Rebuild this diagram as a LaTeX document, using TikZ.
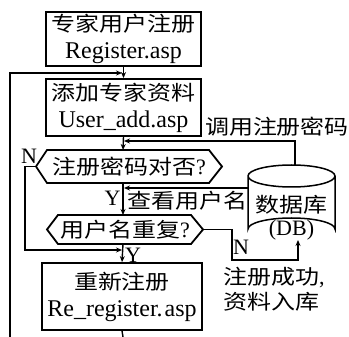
\documentclass[tikz,border=0pt]{standalone}
\usepackage{fontspec}
\setmainfont{Liberation Serif}
\newfontfamily\cjkfont[FakeStretch=1.17]{Noto Sans CJK SC}
\newcommand\zhtext[1]{{\fontsize{20.5}{24}\cjkfont #1}}
\usetikzlibrary{arrows.meta}
\begin{document}
\begin{tikzpicture}[x=1pt,y=-1pt,
  box/.style={draw, line width=1.8pt, inner sep=0pt, align=center,
    font=\fontsize{24}{27}\selectfont},
  lbl/.style={inner sep=0pt, font=\fontsize{22}{26}\selectfont},
  flow/.style={line width=1.4pt, -{Stealth[length=6pt,width=5pt]}},
  link/.style={line width=1.4pt},
  hexa/.style={line width=1.8pt, line join=miter}]
\useasboundingbox (0,0) rectangle (349,337);

% process boxes
\node[box, minimum width=155pt, minimum height=54pt] (reg) at (123.5,39)
  {\zhtext{专家用户注册}\\Register.asp};
\node[box, minimum width=155pt, minimum height=57pt] (add) at (123.5,107.5)
  {\zhtext{添加专家资料}\\User\_add.asp};
\node[box, minimum width=160pt, minimum height=67pt] (new) at (122,296.5)
  {\zhtext{重新注册}\\Re\_register.\kern2pt asp};

% decision hexagons
\draw[hexa] (36,166.5) -- (47,150) -- (209,150) -- (222,166.5) -- (209,183) -- (47,183) -- cycle;
\node[lbl] (q1) at (129,166.5) {\zhtext{注册密码对否}?};
\coordinate (q1t) at (123,150);
\coordinate (q1b) at (123,183);
\coordinate (q1l) at (36,166.5);

\draw[hexa] (47,229.5) -- (58,215) -- (191,215) -- (203,229.5) -- (191,244) -- (58,244) -- cycle;
\node[lbl] (q2) at (125,229.5) {\zhtext{用户名重复}?};
\coordinate (q2t) at (123,215);
\coordinate (q2b) at (123,244);
\coordinate (q2r) at (203,229.5);

% database cylinder
\draw[line width=1.5pt]
  (248,176) arc[start angle=180, end angle=540, x radius=43.5, y radius=11]
  (248,176) -- (248,229)
  arc[start angle=180, end angle=360, x radius=43.5, y radius=11]
  -- (335,176);
\node[lbl] (db) at (291.5,205) {\zhtext{数据库}};
\node[lbl] (dbname) at (291.5,230) {(DB)};
\coordinate (dbtop) at (295,165.2);
\coordinate (dbleft) at (248,188);
\coordinate (dbbot) at (298,240);

% junctions on the main line
\coordinate (j1) at (122,73);
\coordinate (j2) at (124,141);
\coordinate (j3) at (124,188);
\coordinate (j4) at (122,250);
\coordinate (loopbot) at (10,337);
\coordinate (tail) at (123,337);
\coordinate (nbend) at (25,166.5);
\coordinate (rbend) at (232,229.5);

% connectors
\draw[flow] (reg.south) -- (add.north);
\draw[flow] (loopbot) |- (j1);
\draw[flow] (add.south) -- (q1t);
\draw[flow] (dbtop) |- (j2);
\draw[flow] (q1b) -- (q2t);
\draw[flow] (dbleft) -- (j3);
\draw[flow] (q1l) -- (nbend) |- (j4);
\draw[flow] (q2b) -- (new.north);
\draw[flow] (q2r) -- (rbend) |- (298,260) -- (dbbot);
\draw[link] (new.south) -- (tail);

% labels
\node[lbl] (n1) at (29,156) {N};
\node[lbl] (y1) at (112.5,198.5) {Y};
\node[lbl] (y2) at (133,255) {Y};
\node[lbl] (n2) at (241,247) {N};
\node[lbl] (call) at (277,127) {\zhtext{调用注册密码}};
\node[lbl] (look) at (187.5,201) {\zhtext{查看用户名}};
\node[lbl, anchor=west] (ok1) at (223,278) {\zhtext{注册成功},};
\node[lbl, anchor=west] (ok2) at (223,302) {\zhtext{资料入库}};
\end{tikzpicture}
\end{document}
